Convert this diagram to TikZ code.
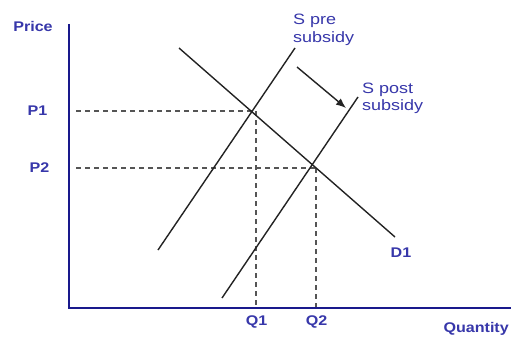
\documentclass[tikz,border=0pt]{standalone}
\usepackage{fontspec}
\setmainfont{Liberation Sans}
\newfontfamily\boldlbl[FakeStretch=1.15]{Liberation Sans Bold}
\newfontfamily\reglbl[FakeStretch=1.2]{Liberation Sans}
\usetikzlibrary{arrows.meta}
\definecolor{txtblue}{RGB}{55,55,170}
\definecolor{axisblue}{RGB}{25,25,140}
\definecolor{curvegray}{RGB}{35,35,35}
\definecolor{dashgray}{RGB}{85,85,85}
\begin{document}
\begin{tikzpicture}[x=1pt,y=-1pt,
  blbl/.style={text=txtblue,font=\boldlbl\fontsize{14}{16}\selectfont,inner sep=0pt},
  rlbl/.style={text=txtblue,font=\reglbl\fontsize{15}{17}\selectfont,inner sep=0pt,anchor=base west},
  axis/.style={draw=axisblue,line width=2pt},
  curve/.style={draw=curvegray,line width=1.4pt},
  guide/.style={draw=dashgray,line width=1.5pt,dash pattern=on 4.5pt off 4.5pt}]
\useasboundingbox (0,0) rectangle (511,337);
\fill[white] (0,0) rectangle (511,337);
% axes
\coordinate (ytop) at (69,24);
\coordinate (origin) at (69,308);
\coordinate (xend) at (511,308);
\draw[axis] (ytop) -- (origin) -- (xend);
% axis and point labels
\node[blbl] (price) at (33,26) {Price};
\node[blbl] (p1) at (37.5,111) {P1};
\node[blbl] (p2) at (39.5,168) {P2};
\node[blbl] (q1) at (256.5,322) {Q1};
\node[blbl] (q2) at (316.5,322) {Q2};
\node[blbl,anchor=east] (qty) at (509,329) {Quantity};
\node[blbl] (d1) at (401,253) {D1};
% curve labels
\node[rlbl] (spre1) at (293,25) {S pre};
\node[rlbl] (spre2) at (293,43) {subsidy};
\node[rlbl] (spost1) at (362,93) {S post};
\node[rlbl] (spost2) at (362,110) {subsidy};
% equilibrium points
\coordinate (e1) at (256,111);
\coordinate (e2) at (316,168);
\coordinate (p1s) at (76,111);
\coordinate (p2s) at (76,168);
\coordinate (q1s) at (256,307);
\coordinate (q2s) at (316,307);
% dashed guides
\draw[guide] (p1s) -- (e1);
\draw[guide] (p2s) -- (e2);
\draw[guide] (e1) -- (q1s);
\draw[guide] (e2) -- (q2s);
% curves
\coordinate (spreA) at (158,250);
\coordinate (spreB) at (295,48);
\coordinate (spostA) at (222,298);
\coordinate (spostB) at (358,97);
\coordinate (dA) at (179,48);
\coordinate (dB) at (395,237);
\draw[curve] (spreA) -- (spreB);
\draw[curve] (spostA) -- (spostB);
\draw[curve] (dA) -- (dB);
% shift arrow
\coordinate (arA) at (297,67);
\coordinate (arB) at (346,108);
\draw[curve,-{Latex[length=10pt,width=8pt]}] (arA) -- (arB);
\end{tikzpicture}
\end{document}
